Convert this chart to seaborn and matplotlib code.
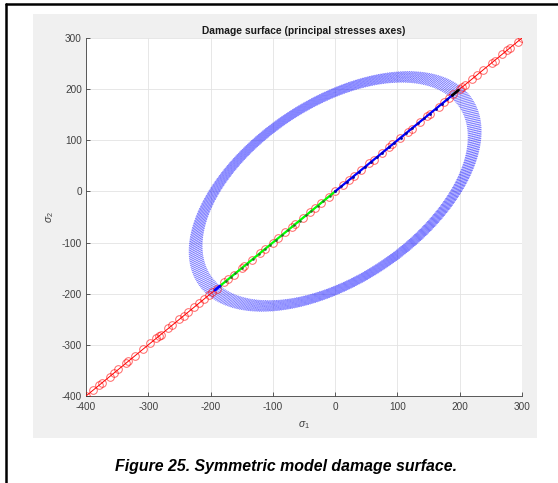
import numpy as np
import pandas as pd
import matplotlib
matplotlib.use("Agg")
import matplotlib.pyplot as plt
import seaborn as sns
from matplotlib.patches import Rectangle
from matplotlib.lines import Line2D

# ---------------- data ----------------
title = "Damage surface (principal stresses axes)"
caption = "Figure 25. Symmetric model damage surface."
ticks = [-400, -300, -200, -100, 0, 100, 200, 300]

# red loading path (sigma1 = sigma2) with open-circle markers
red_s = [-400, -388, -379, -375, -362, -355, -348, -335, -332, -321, -308, -297,
         -287, -283, -280, -268, -262, -250, -243, -236, -226, -218, -210, -203,
         -197, -190, -178, -172, -163, -150, -146, -134, -120, -112, -100, -92,
         -80, -70, -64, -52, -41, -33, -22, -10, 0, 12, 22, 30, 42, 55, 62, 75,
         86, 92, 104, 117, 123, 136, 148, 152, 166, 175, 183, 190, 200, 204, 208,
         220, 228, 237, 252, 256, 268, 276, 281, 293, 300]

# green path (compression side)
green_s = [-185, -176, -168, -160, -150, -141, -132, -122, -113, -104, -95, -86,
           -76, -66, -57, -47, -38, -28, -19, -9, 0]
# blue paths
blue_lo_s = [-193, -189, -185]
blue_hi_s = [0, 10, 19, 29, 38, 48, 57, 67, 76, 86, 95, 105, 114, 124, 133, 143,
             152, 162, 171, 180, 188]
# black segment near the surface
black_s = [188, 193, 198]

# damage-surface radii (family of von Mises ellipses)
radii = [185, 186, 187, 188, 189, 190, 191, 192, 193, 194, 195, 196, 197, 198,
         199, 200, 201, 202, 203]

# ---------------- build frames ----------------
theta = np.linspace(0, 2 * np.pi, 361)
ell_rows = []
for r in radii:
    x = r * np.cos(theta) - r * np.sin(theta) / np.sqrt(3)
    y = r * np.cos(theta) + r * np.sin(theta) / np.sqrt(3)
    ell_rows.append(pd.DataFrame({"s1": x, "s2": y, "r": r}))
ell = pd.concat(ell_rows, ignore_index=True)

red_df = pd.DataFrame({"s1": red_s, "s2": red_s})
green_df = pd.DataFrame({"s1": green_s, "s2": green_s})
blue_lo_df = pd.DataFrame({"s1": blue_lo_s, "s2": blue_lo_s})
blue_hi_df = pd.DataFrame({"s1": blue_hi_s, "s2": blue_hi_s})
black_df = pd.DataFrame({"s1": black_s, "s2": black_s})

# ---------------- figure ----------------
sns.set_theme(style="whitegrid")
plt.rcParams["font.family"] = ["Liberation Sans", "DejaVu Sans"]
plt.rcParams["mathtext.fontset"] = "custom"
plt.rcParams["mathtext.it"] = "Liberation Sans:italic"
plt.rcParams["mathtext.rm"] = "Liberation Sans"

W, H = 558, 483
fig = plt.figure(figsize=(W / 100, H / 100), dpi=100)
fig.patch.set_facecolor("white")

# grey MATLAB figure panel (background axes)
bg = fig.add_axes([0, 0, 1, 1], zorder=-10)
bg.set_xlim(0, W)
bg.set_ylim(H, 0)
bg.axis("off")
bg.add_patch(Rectangle((33, 14), 537 - 33, 438 - 14, facecolor="#f0f0f0",
                       edgecolor="none"))
bg.add_line(Line2D([5.5, 5.5], [3.5, H + 5], color="black", lw=1.8))
bg.add_line(Line2D([5.5, W + 5], [3.5, 3.5], color="black", lw=1.8))
bg.text(286, 467, caption, ha="center", va="center", fontsize=11.4,
        fontweight="bold", fontstyle="italic", color="black")

ax = fig.add_axes([86 / W, 1 - 396 / H, (522 - 86) / W, (396 - 38) / H], zorder=1)
ax.set_facecolor("white")

sns.lineplot(data=ell, x="s1", y="s2", units="r", estimator=None, sort=False,
             color="blue", lw=0.6, alpha=0.55, linestyle=(0, (1.2, 1.0)),
             ax=ax, zorder=2)
sns.lineplot(data=red_df, x="s1", y="s2", sort=False, estimator=None, color="red",
             lw=0.7, marker="o", markersize=5.5, markerfacecolor="none",
             markeredgecolor=(1, 0, 0, 0.6), markeredgewidth=0.7, ax=ax, zorder=3)
sns.lineplot(data=green_df, x="s1", y="s2", sort=False, estimator=None, color="#00ff00",
             lw=1.6, marker="o", markersize=1.8, markerfacecolor="#2a6a2a",
             markeredgecolor="none", ax=ax, zorder=4)
sns.lineplot(data=blue_lo_df, x="s1", y="s2", sort=False, estimator=None, color="blue",
             lw=2.0, ax=ax, zorder=4)
sns.lineplot(data=blue_hi_df, x="s1", y="s2", sort=False, estimator=None, color="blue",
             lw=1.6, marker="o", markersize=2, markerfacecolor="#0000aa",
             markeredgecolor="none", ax=ax, zorder=4)
sns.lineplot(data=black_df, x="s1", y="s2", sort=False, estimator=None, color="black",
             lw=2.0, ax=ax, zorder=5)

ax.set_xlim(-400, 300)
ax.set_ylim(-400, 300)
ax.set_xticks(ticks)
ax.set_yticks(ticks)
ax.set_xticklabels([str(t) for t in ticks])
ax.set_yticklabels([str(t) for t in ticks])
ax.grid(True, color="#e3e3e3", lw=0.6)
ax.set_axisbelow(True)
for side in ["top", "right"]:
    ax.spines[side].set_visible(False)
for side in ["left", "bottom"]:
    ax.spines[side].set_visible(True)
    ax.spines[side].set_color("#404040")
    ax.spines[side].set_linewidth(0.6)
ax.tick_params(direction="in", length=3, width=0.6, color="#404040",
               labelsize=7.2, labelcolor="#404040")
ax.tick_params(axis="x", pad=4.5)
ax.tick_params(axis="y", pad=3)
ax.tick_params(axis="both", which="both", bottom=True, left=True)

ax.set_title(title, fontsize=7.4, fontweight="bold", color="#1a1a1a", pad=3)
ax.set_xlabel(r"$\sigma_1$", fontsize=7.5, color="#404040")
ax.set_ylabel(r"$\sigma_2$", fontsize=7.5, color="#404040")
ax.xaxis.set_label_coords((304 - 86) / 436, -(425 - 396) / 358)
ax.yaxis.set_label_coords(-(86 - 50) / 436, 0.5)
ax.xaxis.label.set_va("center")
ax.yaxis.label.set_va("center")

fig.savefig("out.png", dpi=100)
